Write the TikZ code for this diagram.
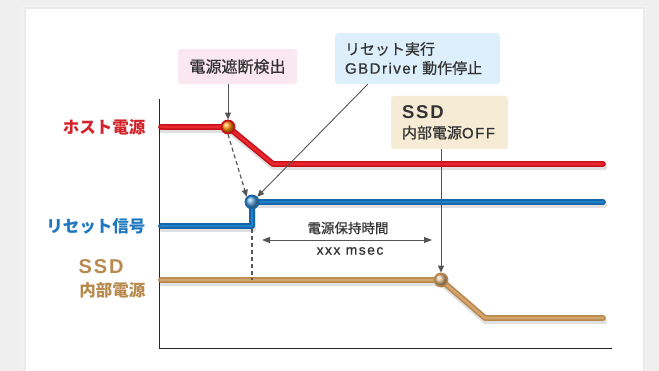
\documentclass[tikz,border=0pt]{standalone}
\usepackage{fontspec}
\setmainfont{Noto Sans CJK JP}
\newfontfamily\med[FakeBold=0.7]{Noto Sans CJK JP}
\newfontfamily\lat[LetterSpace=10]{Liberation Sans}
\newfontfamily\latmed[LetterSpace=10,FakeBold=0.7]{Liberation Sans}
\usetikzlibrary{arrows.meta,calc}
\definecolor{bgray}{HTML}{EFEFEF}
\definecolor{redo}{HTML}{C8101C}
\definecolor{redi}{HTML}{E8282C}
\definecolor{blueo}{HTML}{1565A8}
\definecolor{bluei}{HTML}{1E82CC}
\definecolor{tano}{HTML}{B8884E}
\definecolor{tani}{HTML}{D3A56C}
\definecolor{redtxt}{HTML}{D2232A}
\definecolor{bluetxt}{HTML}{1F78C0}
\definecolor{tantxt}{HTML}{B98A4F}
\definecolor{pinkbox}{HTML}{FBE7F0}
\definecolor{bluebox}{HTML}{DDEFFA}
\definecolor{tanbox}{HTML}{F6EBD5}
\definecolor{arr}{HTML}{555555}
\definecolor{txt}{HTML}{333333}
\begin{document}
\begin{tikzpicture}[x=1pt,y=-1pt,
  shadowline/.style={line width=6.5, draw=black, opacity=0.12, line cap=round, line join=round},
  outerline/.style={line width=5.8, draw=#1, line cap=round, line join=round},
  innerline/.style={line width=2.6, draw=#1, line cap=round, line join=round},
  dot/.style={circle, minimum size=13, inner sep=0, line width=1.8, draw=#1},
  sideLabel/.style={anchor=east, font=\bfseries\fontsize{16.5}{18}\selectfont},
  callout/.style={rounded corners=3, inner sep=0, text=txt},
  pointer/.style={draw=arr, line width=0.9, -{Triangle[length=7,width=6]}},
  dashpointer/.style={draw=arr, line width=1.2, dash pattern=on 4 off 3, -{Triangle[length=7,width=6]}},
  dashplain/.style={draw=arr, line width=1.2, dash pattern=on 4 off 3}
]
\useasboundingbox (0,0) rectangle (659,371);
\fill[bgray] (0,0) rectangle (659,371);
\fill[black!5] (22,6) rectangle (647,371);
\fill[black!8] (24,7) rectangle (645,371);
\fill[white] (26,9) rectangle (643,371);

% axes
\coordinate (ytop) at (159,99);
\coordinate (orig) at (159,348);
\coordinate (xend) at (612,348);
\draw[black!85, line width=0.9] (ytop) -- (orig) -- (xend);

% coordinates of signals
\coordinate (r0) at (161,127);
\coordinate (r1) at (228,127);
\coordinate (r2) at (273,164);
\coordinate (r3) at (603,164);
\coordinate (b0) at (161,226);
\coordinate (b1) at (252,226);
\coordinate (b2) at (252,202);
\coordinate (b3) at (603,202);
\coordinate (t0) at (161,280);
\coordinate (t1) at (441,280);
\coordinate (t2) at (485,318);
\coordinate (t3) at (603,318);

% shadows
\draw[shadowline] ($(r0)+(1,3)$) -- ($(r1)+(1,3)$) -- ($(r2)+(1,3)$) -- ($(r3)+(1,3)$);
\draw[shadowline] ($(b0)+(1,3)$) -- ($(b1)+(1,3)$) -- ($(b2)+(1,3)$) -- ($(b3)+(1,3)$);
\draw[shadowline] ($(t0)+(1,3)$) -- ($(t1)+(1,3)$) -- ($(t2)+(1,3)$) -- ($(t3)+(1,3)$);

% signal lines
\draw[outerline=redo] (r0) -- (r1) -- (r2) -- (r3);
\draw[innerline=redi] (r0) -- (r1) -- (r2) -- (r3);
\draw[outerline=blueo] (b0) -- (b1) -- (b2) -- (b3);
\draw[innerline=bluei] (b0) -- (b1) -- (b2) -- (b3);
\draw[outerline=tano] (t0) -- (t1) -- (t2) -- (t3);
\draw[innerline=tani] (t0) -- (t1) -- (t2) -- (t3);

% dots
\node[dot=redo, ball color=orange!90!yellow] (rdot) at (r1) {};
\node[dot=blueo, ball color=bluei!70!white] (bdot) at (b2) {};
\node[dot=tano, ball color=tani!80!white] (tdot) at (t1) {};

% side labels
\node[sideLabel, text=redtxt] (lhost) at (149,127) {ホスト電源};
\node[sideLabel, text=bluetxt] (lreset) at (149,226) {リセット信号};
\node[anchor=west, font=\lat\bfseries\fontsize{20}{22}\selectfont, text=tantxt] (lssd) at (75,267) {SSD};
\node[sideLabel, text=tantxt] (lssd2) at (149,290) {内部電源};

% callout boxes
\node[callout, fill=pinkbox, minimum width=119, minimum height=35, font=\med\fontsize{16}{18}\selectfont] (box1) at (237.5,66.5) {電源遮断検出};
\node[callout, fill=bluebox, minimum width=165, minimum height=51, inner xsep=10, text width=145, align=left, font=\med\fontsize{15}{19}\selectfont] (box2) at (417.5,58.5) {リセット実行\\{\latmed GBDriver} 動作停止};
\node[callout, fill=tanbox, minimum width=117, minimum height=53, inner xsep=11, text width=95, align=left, font=\med\fontsize{15}{20}\selectfont] (box3) at (449.5,122.5) {{\lat\bfseries\fontsize{18.5}{20}\selectfont SSD}\\内部電源{\latmed OFF}};

% pointers
\draw[pointer] (box1.south -| rdot) -- (rdot.north);
\draw[pointer] ($(box2.south west)+(33,0)$) -- (bdot.north east);
\draw[pointer] (box3.south -| tdot) -- (tdot.north);
\draw[dashpointer] (rdot.south) -- (bdot.north west);
\draw[dashplain] ($(b1)+(0,3)$) coordinate (dtop) -- (dtop |- t0);

% hold time
\coordinate (ha) at (262,240);
\coordinate (hb) at (432,240);
\draw[draw=arr, line width=0.9, {Triangle[length=8,width=6]}-{Triangle[length=8,width=6]}] (ha) -- (hb);
\node[font=\med\fontsize{13.5}{15}\selectfont, text=txt] (hl1) at (348,228) {電源保持時間};
\node[font=\latmed\fontsize{14}{15}\selectfont, text=txt] (hl2) at (350,251) {xxx msec};
\end{tikzpicture}
\end{document}
